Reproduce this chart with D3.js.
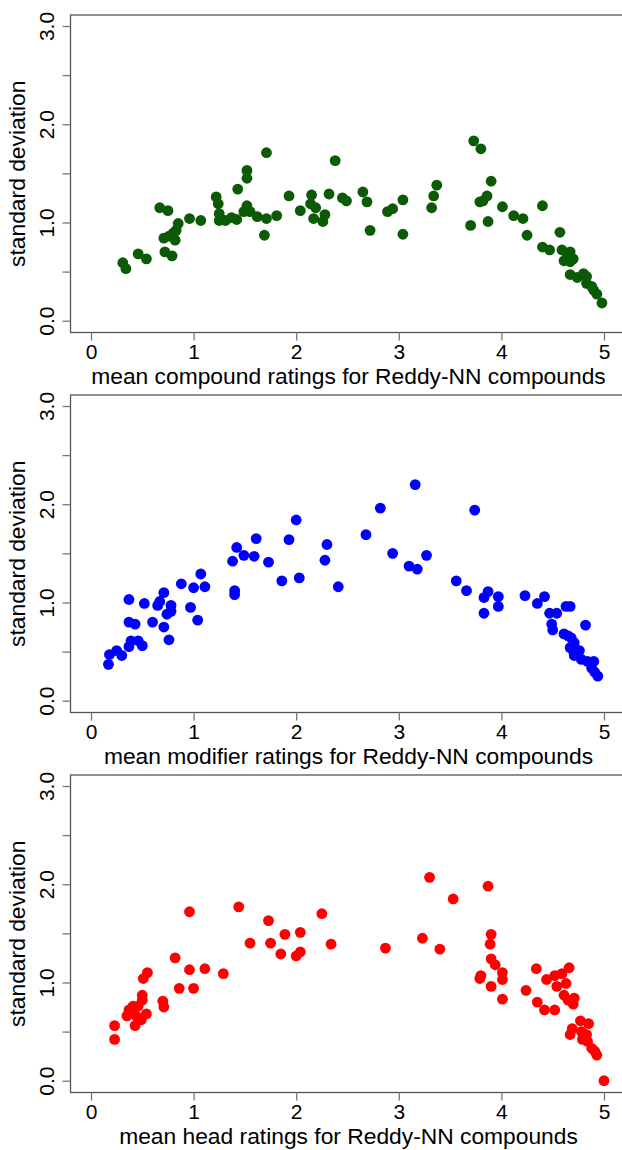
<!DOCTYPE html>
<html>
<head>
<meta charset="utf-8">
<script src="https://cdn.jsdelivr.net/npm/d3@7"></script>
<style>
  body { margin: 0; background: #fff; }
  svg text { font-family: "Liberation Sans", Arial, sans-serif; fill: #000; }
</style>
</head>
<body>
<div id="vis"></div>
<script>
// Define data
let compoundMean = [0.31, 0.34, 0.46, 0.54, 0.67, 0.75, 0.72, 0.79, 0.71, 0.76, 0.82, 0.80, 0.83, 0.85, 0.96, 1.07,
  1.22, 1.24, 1.25, 1.25, 1.31, 1.37, 1.42, 1.43, 1.52, 1.52, 1.52, 1.49, 1.55, 1.62, 1.71, 1.71, 1.69, 1.81,
  1.93, 2.04, 2.15, 2.14, 2.19, 2.17, 2.28, 2.26, 2.32, 2.38, 2.45, 2.49, 2.65, 2.69, 2.72, 2.89, 2.94, 3.04,
  3.04, 3.32, 3.34, 3.37, 3.70, 3.73, 3.80, 3.79, 3.82, 3.86, 3.90, 3.87, 4.01, 4.12, 4.21, 4.25, 4.40, 4.40,
  4.47, 4.57, 4.59, 4.61, 4.67, 4.70, 4.67, 4.64, 4.67, 4.74, 4.80, 4.83, 4.83, 4.88, 4.90, 4.93, 4.98];
let compoundSd = [0.59, 0.53, 0.68, 0.63, 1.15, 1.12, 0.70, 0.66, 0.84, 0.86, 0.82, 0.89, 0.92, 0.99, 1.04, 1.02,
  1.26, 1.19, 1.09, 1.02, 1.02, 1.05, 1.03, 1.34, 1.53, 1.45, 1.17, 1.11, 1.11, 1.06, 1.71, 1.04, 0.87, 1.07,
  1.27, 1.12, 1.28, 1.19, 1.15, 1.04, 1.08, 1.01, 1.29, 1.63, 1.25, 1.22, 1.31, 1.21, 0.92, 1.11, 1.14, 1.23,
  0.88, 1.15, 1.27, 1.38, 0.97, 1.83, 1.75, 1.21, 1.22, 1.27, 1.42, 1.01, 1.16, 1.07, 1.04, 0.87, 1.17, 0.75,
  0.72, 0.90, 0.72, 0.61, 0.70, 0.63, 0.60, 0.65, 0.47, 0.44, 0.48, 0.45, 0.38, 0.35, 0.31, 0.27, 0.18];

let modifierMean = [0.17, 0.18, 0.25, 0.30, 0.37, 0.37, 0.43, 0.39, 0.37, 0.46, 0.50, 0.52, 0.60, 0.65, 0.67, 0.71,
  0.71, 0.74, 0.76, 0.78, 0.78, 0.88, 0.97, 1.00, 1.04, 1.07, 1.11, 1.38, 1.40, 1.40, 1.42, 1.49, 1.59, 1.61,
  1.73, 1.86, 1.93, 2.00, 2.03, 2.28, 2.30, 2.41, 2.68, 2.82, 2.94, 3.10, 3.18, 3.16, 3.27, 3.56, 3.66, 3.74,
  3.83, 3.83, 3.87, 3.97, 3.97, 4.23, 4.35, 4.42, 4.47, 4.54, 4.49, 4.50, 4.63, 4.67, 4.61, 4.65, 4.68, 4.71,
  4.67, 4.70, 4.76, 4.71, 4.78, 4.82, 4.84, 4.90, 4.88, 4.91, 4.94];
let modifierSd = [0.37, 0.47, 0.51, 0.46, 1.03, 0.80, 0.78, 0.61, 0.55, 0.61, 0.56, 0.99, 0.80, 0.97, 1.01, 1.10,
  0.75, 0.88, 0.62, 0.97, 0.91, 1.19, 0.95, 1.15, 0.82, 1.29, 1.16, 1.42, 1.12, 1.08, 1.56, 1.48, 1.47, 1.65,
  1.41, 1.22, 1.64, 1.84, 1.25, 1.43, 1.59, 1.16, 1.69, 1.96, 1.50, 1.37, 1.34, 2.20, 1.48, 1.22, 1.12, 1.94,
  0.89, 1.05, 1.11, 1.06, 0.96, 1.07, 0.99, 1.06, 0.89, 0.89, 0.78, 0.72, 0.96, 0.96, 0.68, 0.66, 0.64, 0.59,
  0.54, 0.51, 0.51, 0.46, 0.42, 0.77, 0.40, 0.40, 0.33, 0.29, 0.25];

let headMean = [0.23, 0.23, 0.35, 0.37, 0.41, 0.44, 0.43, 0.49, 0.46, 0.50, 0.50, 0.54, 0.51, 0.55, 0.70, 0.71,
  0.82, 0.86, 0.96, 0.96, 1.00, 1.11, 1.29, 1.44, 1.55, 1.73, 1.75, 1.85, 1.89, 2.00, 2.04, 2.04, 2.25, 2.34,
  2.87, 3.23, 3.30, 3.40, 3.53, 3.79, 3.80, 3.87, 3.90, 3.89, 3.90, 3.94, 3.90, 4.01, 4.01, 4.01, 4.24, 4.34,
  4.35, 4.42, 4.44, 4.52, 4.52, 4.54, 4.59, 4.63, 4.66, 4.61, 4.65, 4.71, 4.70, 4.77, 4.85, 4.69, 4.67, 4.78,
  4.83, 4.79, 4.84, 4.88, 4.91, 4.93, 5.00];
let headSd = [0.56, 0.42, 0.66, 0.72, 0.76, 0.66, 0.56, 0.62, 0.76, 0.87, 0.82, 0.68, 1.04, 1.10, 0.81, 0.75,
  1.25, 0.94, 1.72, 1.13, 0.94, 1.14, 1.09, 1.77, 1.40, 1.63, 1.40, 1.29, 1.49, 1.27, 1.31, 1.51, 1.70, 1.39,
  1.35, 1.45, 2.07, 1.34, 1.85, 1.04, 1.07, 1.98, 1.49, 1.39, 1.24, 1.18, 0.96, 1.10, 1.03, 0.83, 0.92, 1.14,
  0.80, 0.72, 1.03, 0.72, 1.07, 0.96, 1.09, 0.99, 1.15, 0.87, 0.82, 0.84, 0.78, 0.61, 0.58, 0.53, 0.47, 0.50,
  0.47, 0.42, 0.40, 0.33, 0.30, 0.26, 0.00];

let xTicks = [0, 1, 2, 3, 4, 5];
let yTicks = [0, 0.5, 1, 1.5, 2, 2.5, 3];
let yTickLabels = ['0.0', '', '1.0', '', '2.0', '', '3.0'];

let panels = [
  { x: compoundMean, y: compoundSd, color: '#0b5a06', label: 'mean compound ratings for Reddy-NN compounds' },
  { x: modifierMean, y: modifierSd, color: '#0000ff', label: 'mean modifier ratings for Reddy-NN compounds' },
  { x: headMean, y: headSd, color: '#ff0000', label: 'mean head ratings for Reddy-NN compounds' }
];

// Create SVG
let width = 622,
  height = 1150;

let box = { left: 70.5, right: 624, top: 0, bottom: 317.5 }; // plot frame inside each panel
let panelStep = 380,
  panelTop = 15;

let svg = d3.select('#vis')
  .append('svg')
  .attr('width', width)
  .attr('height', height);

// Define Scales
let xScale = d3.scaleLinear()
  .domain([0, 5])
  .range([91, 604]);

let yScale = d3.scaleLinear()
  .domain([0, 3])
  .range([305.7, 11]);

panels.forEach(function(p, i) {
  let g = svg.append('g')
    .attr('transform', `translate(0,${panelTop + i * panelStep})`);

  // frame
  g.append('rect')
    .attr('x', box.left)
    .attr('y', box.top)
    .attr('width', box.right - box.left)
    .attr('height', box.bottom - box.top)
    .attr('fill', 'none')
    .attr('stroke', '#555')
    .attr('stroke-width', 1.3);

  //Draw Axes
  let yAxis = g.append('g')
    .attr('transform', `translate(${box.left},0)`)
    .call(d3.axisLeft(yScale).tickValues(yTicks).tickSize(8).tickFormat(function(d, j) {
      return yTickLabels[j];
    }));
  yAxis.select('.domain').remove();
  yAxis.selectAll('line').attr('stroke', '#777').attr('stroke-width', 1.3);
  // each tick group is already moved to its y, so rotate the label in place
  yAxis.selectAll('text')
    .attr('transform', 'rotate(-90)')
    .attr('x', 0)
    .attr('y', -17)
    .attr('dy', 0)
    .style('text-anchor', 'middle')
    .style('font-size', '21px')
    .style('font-family', '"Liberation Sans", Arial, sans-serif');

  let xAxis = g.append('g')
    .attr('transform', `translate(0,${box.bottom})`)
    .call(d3.axisBottom(xScale).tickValues(xTicks).tickSize(8).tickFormat(d3.format('d')));
  xAxis.select('.domain').remove();
  xAxis.selectAll('line').attr('stroke', '#777').attr('stroke-width', 1.3);
  xAxis.selectAll('text')
    .attr('y', 26)
    .attr('dy', 0)
    .style('font-size', '21px')
    .style('font-family', '"Liberation Sans", Arial, sans-serif');

  //Add labels
  g.append('text')
    .attr('x', (xScale(0) + xScale(5)) / 2 + 1)
    .attr('y', box.bottom + 51)
    .attr('text-anchor', 'middle')
    .style('font-size', '22.8px')
    .text(p.label);

  g.append('text')
    .attr('transform', `translate(25,${(box.top + box.bottom) / 2}) rotate(-90)`)
    .attr('text-anchor', 'middle')
    .style('font-size', '22.8px')
    .text('standard deviation');

  //Draw points
  g.selectAll('circle')
    .data(p.x.map(function(d, j) { return [d, p.y[j]]; }))
    .enter()
    .append('circle')
      .attr('cx', function(d) { return xScale(d[0]); })
      .attr('cy', function(d) { return yScale(d[1]); })
      .attr('r', 5.4)
      .attr('fill', p.color);
});
</script>
</body>
</html>
